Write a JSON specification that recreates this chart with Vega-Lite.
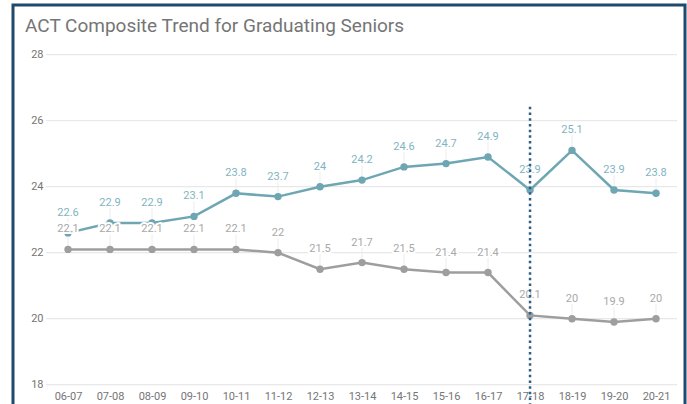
{
  "$schema": "https://vega.github.io/schema/vega-lite/v6.json",
  "width": 672,
  "height": 420,
  "autosize": {"type": "none"},
  "padding": {"left": 13, "top": 5, "right": 2, "bottom": 0},
  "background": "white",
  "title": {
    "text": "ACT Composite Trend for Graduating Seniors",
    "anchor": "start",
    "frame": "group",
    "offset": -46,
    "dx": 12,
    "baseline": "alphabetic",
    "font": "Roboto",
    "fontSize": 19,
    "fontWeight": "normal",
    "color": "#757575"
  },
  "config": {
    "view": {"stroke": "#1f4a6b", "strokeWidth": 3},
    "font": "Roboto"
  },
  "datasets": {
    "scores": [
      {"season": "06-07", "series": "District", "value": 22.6},
      {"season": "07-08", "series": "District", "value": 22.9},
      {"season": "08-09", "series": "District", "value": 22.9},
      {"season": "09-10", "series": "District", "value": 23.1},
      {"season": "10-11", "series": "District", "value": 23.8},
      {"season": "11-12", "series": "District", "value": 23.7},
      {"season": "12-13", "series": "District", "value": 24},
      {"season": "13-14", "series": "District", "value": 24.2},
      {"season": "14-15", "series": "District", "value": 24.6},
      {"season": "15-16", "series": "District", "value": 24.7},
      {"season": "16-17", "series": "District", "value": 24.9},
      {"season": "17-18", "series": "District", "value": 23.9},
      {"season": "18-19", "series": "District", "value": 25.1},
      {"season": "19-20", "series": "District", "value": 23.9},
      {"season": "20-21", "series": "District", "value": 23.8},
      {"season": "06-07", "series": "State", "value": 22.1},
      {"season": "07-08", "series": "State", "value": 22.1},
      {"season": "08-09", "series": "State", "value": 22.1},
      {"season": "09-10", "series": "State", "value": 22.1},
      {"season": "10-11", "series": "State", "value": 22.1},
      {"season": "11-12", "series": "State", "value": 22},
      {"season": "12-13", "series": "State", "value": 21.5},
      {"season": "13-14", "series": "State", "value": 21.7},
      {"season": "14-15", "series": "State", "value": 21.5},
      {"season": "15-16", "series": "State", "value": 21.4},
      {"season": "16-17", "series": "State", "value": 21.4},
      {"season": "17-18", "series": "State", "value": 20.1},
      {"season": "18-19", "series": "State", "value": 20},
      {"season": "19-20", "series": "State", "value": 19.9},
      {"season": "20-21", "series": "State", "value": 20}
    ],
    "grid": [
      {"tick": 18}, {"tick": 20}, {"tick": 22}, {"tick": 24}, {"tick": 26}, {"tick": 28}
    ],
    "marker": [
      {"season": "17-18", "top": 26.42, "bottom": 16.78}
    ]
  },
  "data": {"name": "scores"},
  "encoding": {
    "x": {
      "field": "season",
      "type": "ordinal",
      "scale": {"type": "point", "padding": 1.041, "align": 0.655, "round": false},
      "axis": {
        "orient": "bottom",
        "offset": -40,
        "title": null,
        "domain": false,
        "ticks": false,
        "grid": false,
        "labelAngle": 0,
        "labelPadding": 5,
        "labelFontSize": 11,
        "labelColor": "#757575",
        "labelFont": "Roboto"
      }
    },
    "y": {
      "field": "value",
      "type": "quantitative",
      "scale": {"domain": [16.779, 29.506], "nice": false, "zero": false},
      "axis": {
        "orient": "left",
        "offset": -35,
        "title": null,
        "domain": false,
        "ticks": false,
        "grid": false,
        "values": [18, 20, 22, 24, 26, 28],
        "labelPadding": 5,
        "labelFontSize": 11,
        "labelColor": "#757575",
        "labelFont": "Roboto"
      }
    }
  },
  "layer": [
    {
      "data": {"name": "grid"},
      "mark": {"type": "rule", "color": "#e3e3e3", "strokeWidth": 1, "xOffset": -22, "x2Offset": 21},
      "encoding": {
        "x": {"datum": "06-07"},
        "x2": {"datum": "20-21"},
        "y": {"field": "tick", "type": "quantitative"}
      }
    },
    {
      "mark": {"type": "rule", "color": "#ececec", "strokeWidth": 1, "y2Offset": -15},
      "encoding": {
        "y2": {"field": "value"}
      }
    },
    {
      "mark": {"type": "line", "strokeWidth": 2.5},
      "encoding": {
        "color": {
          "field": "series",
          "type": "nominal",
          "scale": {"domain": ["District", "State"], "range": ["#6ea6b3", "#9e9e9e"]},
          "legend": null
        }
      }
    },
    {
      "mark": {"type": "circle", "size": 55, "opacity": 1},
      "encoding": {
        "color": {"field": "series", "type": "nominal", "legend": null}
      }
    },
    {
      "mark": {"type": "text", "dy": -20, "fontSize": 11, "font": "Roboto", "baseline": "middle", "fill": "white", "stroke": "white", "strokeWidth": 4, "strokeJoin": "round"},
      "encoding": {
        "text": {"field": "value", "type": "quantitative"}
      }
    },
    {
      "mark": {"type": "text", "dy": -20, "fontSize": 11, "font": "Roboto", "baseline": "middle"},
      "encoding": {
        "text": {"field": "value", "type": "quantitative"},
        "color": {
          "condition": {"test": "datum.series === 'District'", "value": "#7fb4c1"},
          "value": "#a8a8a8"
        }
      }
    },
    {
      "data": {"name": "marker"},
      "mark": {"type": "rule", "color": "#2f5f88", "strokeWidth": 2.5, "strokeDash": [2.5, 3.2]},
      "encoding": {
        "y": {"field": "top", "type": "quantitative"},
        "y2": {"field": "bottom"}
      }
    }
  ]
}
